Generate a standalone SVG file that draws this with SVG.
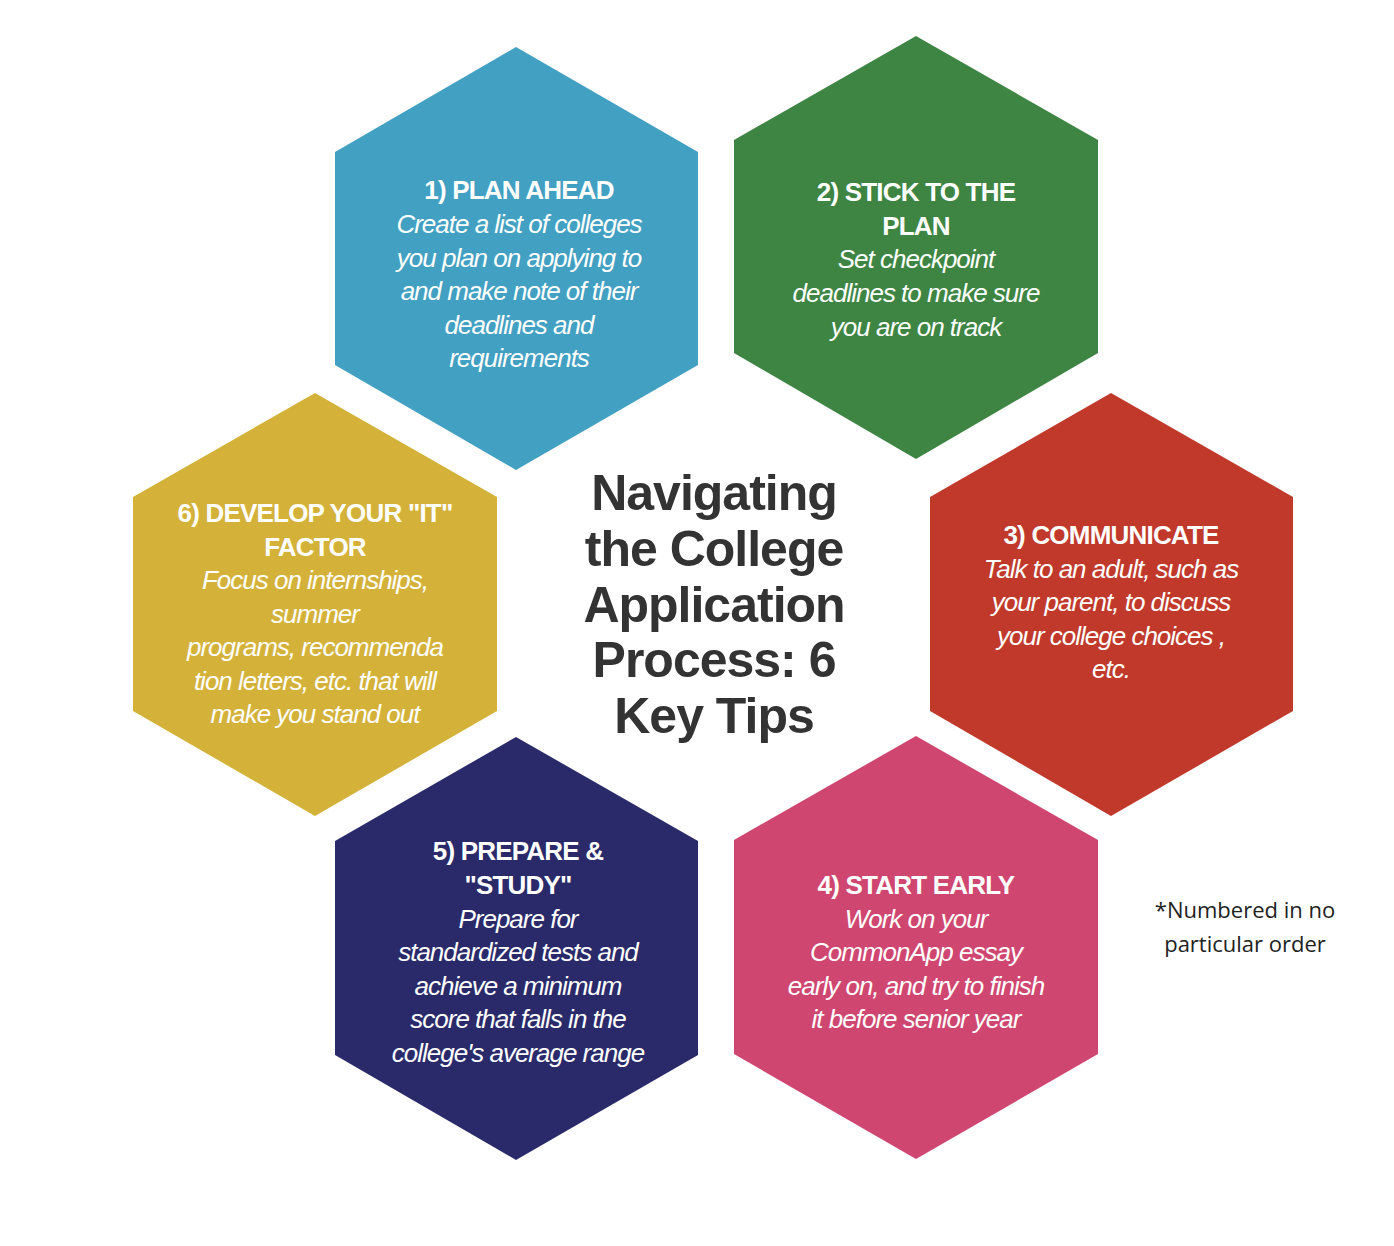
<svg xmlns="http://www.w3.org/2000/svg" width="1394" height="1246" viewBox="0 0 1394 1246">
<style>
.h{font-family:"Liberation Sans",Arial,sans-serif;font-weight:bold;font-size:26px;fill:#fff;text-anchor:middle;letter-spacing:-0.8px}
.b{font-family:"Liberation Sans",Arial,sans-serif;font-style:italic;font-size:26px;fill:#fff;text-anchor:middle;letter-spacing:-1px}
.t{font-family:"Liberation Sans",Arial,sans-serif;font-weight:bold;font-size:50px;fill:#333;text-anchor:middle;letter-spacing:-1px}
.n{font-family:"Open Sans","Liberation Sans",sans-serif;font-size:22px;fill:#222;text-anchor:middle}
</style>
<rect width="1394" height="1246" fill="#fff"/>
<g id="hex1"><polygon points="516,47 698,152 698,365 516,470 335,365 335,152" fill="#42A0C2"/>
<text class="h" x="519" y="199">1) PLAN AHEAD</text>
<text class="b" x="519" y="233">Create a list of  colleges</text><text class="b" x="519" y="267">you plan on applying to</text><text class="b" x="519" y="300">and make note of their</text><text class="b" x="519" y="334">deadlines and</text><text class="b" x="519" y="367">requirements</text></g>
<g id="hex2"><polygon points="916,36 1098,140 1098,353 916,459 734,353 734,140" fill="#3E8544"/>
<text class="h" x="916" y="201">2) STICK TO THE</text><text class="h" x="916" y="235">PLAN</text>
<text class="b" x="916" y="268">Set checkpoint</text><text class="b" x="916" y="302">deadlines to make sure</text><text class="b" x="916" y="336">you are on track</text></g>
<g id="hex3"><polygon points="1111,393 1293,497 1293,711 1111,816 930,711 930,497" fill="#C0392B"/>
<text class="h" x="1111" y="544">3) COMMUNICATE</text>
<text class="b" x="1111" y="578">Talk to an adult, such as</text><text class="b" x="1111" y="611">your parent, to discuss</text><text class="b" x="1111" y="645">your college choices ,</text><text class="b" x="1111" y="678">etc.</text></g>
<g id="hex4"><polygon points="916,736 1098,840 1098,1054 916,1159 734,1054 734,840" fill="#CF4670"/>
<text class="h" x="916" y="894">4) START EARLY</text>
<text class="b" x="916" y="928">Work on your</text><text class="b" x="916" y="961">CommonApp essay</text><text class="b" x="916" y="995">early on, and try to finish</text><text class="b" x="916" y="1028">it before senior year</text></g>
<g id="hex5"><polygon points="516,737 698,841 698,1055 516,1160 335,1055 335,841" fill="#2A2A6A"/>
<text class="h" x="518" y="860">5) PREPARE &amp;</text><text class="h" x="518" y="894">"STUDY"</text>
<text class="b" x="518" y="928">Prepare for</text><text class="b" x="518" y="961">standardized tests and</text><text class="b" x="518" y="995">achieve a minimum</text><text class="b" x="518" y="1028">score that falls in the</text><text class="b" x="518" y="1062">college's average range</text></g>
<g id="hex6"><polygon points="315,393 497,497 497,711 315,816 133,711 133,497" fill="#D4B23A"/>
<text class="h" x="315" y="522">6) DEVELOP YOUR "IT"</text><text class="h" x="315" y="556">FACTOR</text>
<text class="b" x="315" y="589">Focus on internships,</text><text class="b" x="315" y="623">summer</text><text class="b" x="315" y="656">programs, recommenda</text><text class="b" x="315" y="690">tion letters, etc.  that will</text><text class="b" x="315" y="723">make you stand out</text></g>
<g id="title"><text class="t" x="714" y="510">Navigating</text><text class="t" x="714" y="566">the College</text><text class="t" x="714" y="622">Application</text><text class="t" x="714" y="677">Process: 6</text><text class="t" x="714" y="733">Key Tips</text></g>
<g id="note"><text class="n" x="1245" y="918">*Numbered in no</text><text class="n" x="1245" y="952">particular order</text></g>
<g id="connectors"/>
</svg>
